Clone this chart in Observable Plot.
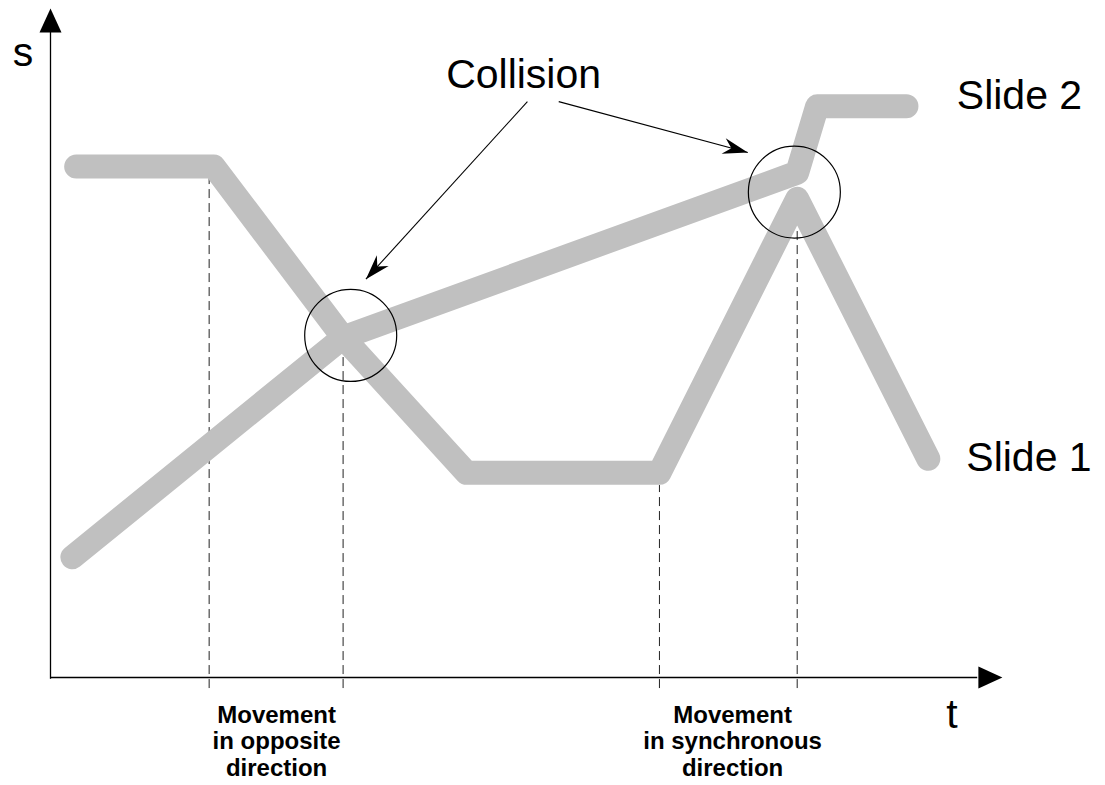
<!DOCTYPE html>
<html>
<head>
<meta charset="utf-8">
<script src="https://cdn.jsdelivr.net/npm/d3@7"></script>
<script src="https://cdn.jsdelivr.net/npm/@observablehq/plot@0.6"></script>
<style>
  html, body { margin: 0; padding: 0; background: #ffffff; }
  #chart svg { display: block; }
</style>
</head>
<body>
<div id="chart"></div>
<script>
// ---- Data (t = time, s = position; both in arbitrary units 0..100) ----
const slide1T = [2.7, 17.2, 30.8, 43.8, 64.1, 78.6, 92.4];
const slide1S = [76.4, 76.4, 50.9, 30.7, 30.7, 71.6, 32.8];
const slide2T = [2.3, 30.8, 78.6, 80.7, 90.1];
const slide2S = [18.1, 50.9, 75.5, 85.4, 85.4];

// marker times (dashed verticals) and where each dash starts (just under the lines)
const markerT   = [16.7, 30.8, 64.1, 78.6];
const markerTop = [74.6, 48.2, 28.8, 67.2];
const markerBottom = -1.5;

// collision circles
const collisionT = [31.6, 78.3];
const collisionS = [51.2, 72.6];

// annotation arrows from the "Collision" label to the circles
const arrowFromT = [50.2, 53.5];
const arrowFromS = [86.1, 86.1];
const arrowToT   = [33.2, 73.4];
const arrowToS   = [59.6, 78.5];

// texts
const axisLabels   = ["s", "t"];
const axisLabelT   = [-2.9, 94.9];
const axisLabelS   = [93.4, -5.5];
const seriesLabels = ["Slide 1", "Slide 2"];
const seriesLabelT = [96.4, 95.4];
const seriesLabelS = [33.0, 87.0];
const collisionLabel = "Collision";
const collisionLabelT = 49.8;
const collisionLabelS = 90.1;
const phaseLabels = ["Movement\nin opposite\ndirection", "Movement\nin synchronous\ndirection"];
const phaseLabelT = [23.8, 71.8];
const phaseLabelS = [-9.3, -9.3];

// ---- Build tables ----
const slide1 = slide1T.map((t, i) => ({t, s: slide1S[i], name: "Slide 1"}));
const slide2 = slide2T.map((t, i) => ({t, s: slide2S[i], name: "Slide 2"}));
const markers = markerT.map((t, i) => ({t, top: markerTop[i], bottom: markerBottom}));
const circles = collisionT.map((t, i) => ({t, s: collisionS[i]}));

const W = 1105, H = 785;
const margins = {marginLeft: 50, marginRight: 105, marginTop: 8, marginBottom: 107};
const xDomain = [0, 100], yDomain = [0, 100];
const xs = Plot.scale({x: {domain: xDomain, range: [margins.marginLeft, W - margins.marginRight]}});
const ys = Plot.scale({y: {domain: yDomain, range: [H - margins.marginBottom, margins.marginTop]}});

const arrows = arrowFromT.map((t0, i) => {
  const dx = xs.apply(arrowToT[i]) - xs.apply(t0);
  const dy = ys.apply(arrowToS[i]) - ys.apply(arrowFromS[i]);
  return {t0, s0: arrowFromS[i], t1: arrowToT[i], s1: arrowToS[i],
          rot: Math.atan2(dx, -dy) * 180 / Math.PI};
});

// custom symbols (tip at the anchor point, pointing "up" before rotation)
const barbedHead = {draw(ctx) { ctx.moveTo(0, 0); ctx.lineTo(8, 25); ctx.lineTo(0, 17); ctx.lineTo(-8, 25); ctx.closePath(); }};
const axisHead = {draw(ctx) { ctx.moveTo(0, 0); ctx.lineTo(11, 24); ctx.lineTo(-11, 24); ctx.closePath(); }};

const axisHeads = [{t: 0, s: 100, rot: 0}, {t: 100.2, s: 0.15, rot: 90}];

const font = "Liberation Sans, Arial, Helvetica, sans-serif";
const gray = "#c0c0c0";

const chart = Plot.plot({
  width: W, height: H, ...margins,
  style: {background: "#ffffff", fontFamily: font, overflow: "visible"},
  x: {domain: xDomain, axis: null},
  y: {domain: yDomain, axis: null},
  marks: [
    // axes
    Plot.ruleX([0], {y1: -0.1, y2: 96.6, stroke: "black", strokeWidth: 1.3}),
    Plot.ruleY([0.15], {x1: 0, x2: 97.6, stroke: "black", strokeWidth: 1.3}),
    Plot.dot(axisHeads, {x: "t", y: "s", rotate: "rot", symbol: axisHead, fill: "black", stroke: "none"}),
    // dashed markers
    Plot.ruleX(markers, {x: "t", y1: "bottom", y2: "top", stroke: "#222", strokeWidth: 1, strokeDasharray: "9,5"}),
    // the two slides
    Plot.line(slide2, {x: "t", y: "s", stroke: gray, strokeWidth: 24, strokeLinecap: "round", strokeLinejoin: "round"}),
    Plot.line(slide1, {x: "t", y: "s", stroke: gray, strokeWidth: 24, strokeLinecap: "round", strokeLinejoin: "round"}),
    // collision circles
    Plot.dot(circles, {x: "t", y: "s", r: 46, fill: "none", stroke: "black", strokeWidth: 1.2}),
    // annotation arrows
    Plot.link(arrows, {x1: "t0", y1: "s0", x2: "t1", y2: "s1", stroke: "black", strokeWidth: 1.1}),
    Plot.dot(arrows, {x: "t1", y: "s1", rotate: "rot", symbol: barbedHead, fill: "black", stroke: "none"}),
    // texts
    Plot.text(axisLabels, {x: (d, i) => axisLabelT[i], y: (d, i) => axisLabelS[i], text: d => d, fontSize: 41, fill: "black", fontFamily: font}),
    Plot.text(seriesLabels, {x: (d, i) => seriesLabelT[i], y: (d, i) => seriesLabelS[i], text: d => d, fontSize: 41, textAnchor: "start", fill: "black", fontFamily: font}),
    Plot.text([collisionLabel], {x: () => collisionLabelT, y: () => collisionLabelS, text: d => d, fontSize: 41, fill: "black", fontFamily: font}),
    Plot.text(phaseLabels, {x: (d, i) => phaseLabelT[i], y: (d, i) => phaseLabelS[i], text: d => d, fontSize: 24, fontWeight: "bold", lineHeight: 1.12, fill: "black", fontFamily: font})
  ]
});
document.getElementById("chart").appendChild(chart);
</script>
</body>
</html>
